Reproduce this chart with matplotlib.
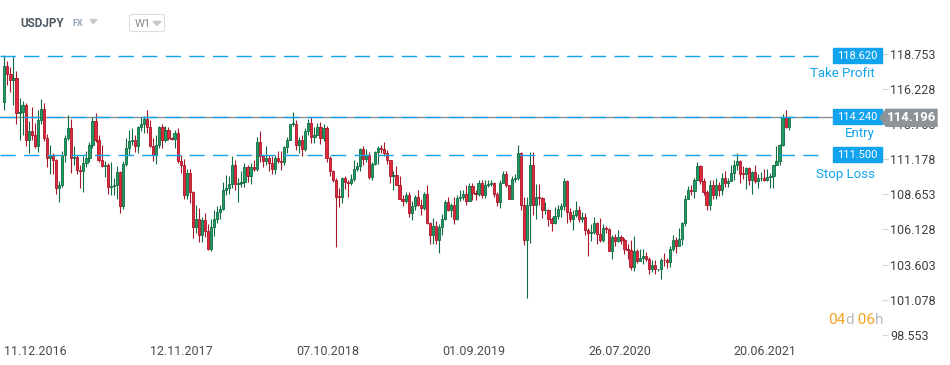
import matplotlib.pyplot as plt
import numpy as np
from matplotlib.patches import Rectangle, Polygon, FancyBboxPatch

plt.rcParams["font.family"] = ["Roboto", "DejaVu Sans"]

# weekly USDJPY candles, 11.12.2016 .. 24.10.2021 (incl. the short new-year bars)
opens = [
    115.3, 117.9, 117.3, 116.9, 117.0, 114.5, 114.6, 115.1, 112.6, 113.2,
    112.9, 112.1, 114.0, 114.8, 112.7, 111.3, 111.4, 111.1, 109.1, 109.3,
    111.5, 112.7, 113.4, 111.3, 111.35, 110.4, 110.3, 110.9, 111.3, 112.2,
    113.9, 112.6, 111.1, 110.7, 110.75, 109.2, 109.25, 109.35, 110.25, 107.85,
    110.85, 112.0, 112.5, 112.6, 112.1, 113.5, 113.7, 114.05, 113.5, 112.1,
    111.5, 112.2, 113.5, 112.6, 113.3, 112.7, 112.65, 113.05, 111.05, 110.8,
    108.6, 110.2, 108.8, 106.3, 106.9, 105.75, 106.8, 106.0, 104.7, 106.3,
    106.9, 107.4, 107.6, 109.0, 109.1, 109.4, 110.8, 109.4, 109.5, 109.55,
    110.6, 109.95, 110.65, 110.5, 112.4, 111.4, 111.05, 111.25, 110.9, 110.5,
    111.25, 111.05, 110.95, 112.05, 112.6, 113.7, 113.75, 112.2, 112.55, 111.9,
    113.2, 113.8, 112.8, 112.95, 113.5, 112.7, 113.4, 111.25, 110.3, 109.7,
    108.5, 108.45, 109.8, 109.55, 109.5, 109.75, 110.5, 110.7, 111.9, 111.2,
    111.5, 109.9, 110.85, 111.7, 112.0, 111.9, 111.6, 111.1, 109.95, 110.05,
    109.3, 108.3, 108.2, 108.6, 107.3, 107.85, 108.5, 107.9, 107.7, 108.7,
    106.6, 105.7, 106.35, 105.4, 106.3, 106.9, 108.1, 107.55, 107.9, 106.9,
    108.4, 108.45, 108.7, 108.2, 109.25, 108.75, 108.65, 109.5, 108.6, 109.35,
    109.4, 109.45, 108.65, 108.1, 109.5, 110.15, 109.3, 108.35, 109.75, 109.8,
    111.6, 107.9, 105.4, 107.9, 110.8, 107.9, 108.5, 108.4, 107.5, 107.55,
    106.9, 106.6, 107.1, 107.6, 107.8, 109.6, 107.4, 106.9, 107.2, 107.5,
    106.9, 107.0, 106.1, 105.9, 105.95, 106.6, 105.8, 105.4, 106.2, 106.15,
    104.55, 105.6, 105.3, 105.6, 105.4, 104.7, 104.65, 103.4, 104.6, 103.85,
    104.1, 104.2, 104.0, 103.3, 103.6, 103.25, 103.25, 103.95, 103.9, 103.8,
    104.7, 105.4, 104.95, 105.45, 106.6, 108.3, 109.0, 108.9, 109.7, 110.7,
    109.65, 108.8, 107.9, 109.3, 108.6, 109.35, 108.95, 109.85, 109.5, 109.65,
    110.2, 110.75, 111.05, 110.15, 110.1, 110.55, 109.7, 110.25, 109.6, 109.8,
    109.85, 109.7, 109.9, 109.95, 110.75, 111.05, 112.2, 114.2, 113.5,
]
highs = [
    118.66, 118.25, 117.8, 118.6, 117.5, 115.6, 115.37, 115.2, 113.9, 114.95,
    113.8, 114.75, 115.5, 115.2, 113.0, 112.2, 111.6, 111.2, 109.6, 111.8,
    112.9, 114.37, 114.1, 112.1, 111.5, 110.8, 111.4, 111.8, 112.4, 114.2,
    114.5, 112.9, 112.2, 111.05, 110.9, 110.95, 109.85, 110.7, 110.3, 111.05,
    112.7, 113.25, 113.45, 112.9, 113.6, 114.25, 114.3, 114.7, 114.0, 112.7,
    112.9, 113.6, 113.75, 113.55, 113.5, 112.75, 113.3, 113.4, 111.5, 111.2,
    110.5, 110.5, 108.9, 107.9, 107.7, 107.0, 107.3, 106.5, 106.9, 107.5,
    107.8, 107.9, 109.55, 110.05, 109.95, 111.4, 111.15, 109.85, 110.3, 110.9,
    110.75, 110.9, 111.1, 112.8, 113.2, 111.5, 112.15, 111.5, 111.45, 111.5,
    111.8, 111.75, 112.15, 112.8, 113.7, 114.55, 114.0, 112.75, 112.9, 113.4,
    114.05, 114.2, 113.5, 113.8, 113.85, 113.7, 113.6, 111.4, 110.4, 109.8,
    109.1, 109.9, 110.0, 109.7, 110.15, 111.1, 111.0, 112.0, 112.1, 111.9,
    111.7, 110.95, 111.8, 112.1, 112.2, 112.4, 111.85, 111.15, 110.3, 110.7,
    109.95, 108.6, 108.8, 108.8, 108.2, 108.6, 108.95, 108.3, 108.8, 109.3,
    106.7, 106.95, 106.75, 106.55, 107.25, 108.25, 108.5, 108.05, 108.45, 108.6,
    108.95, 108.95, 109.3, 109.5, 109.5, 109.0, 109.7, 109.7, 109.7, 109.7,
    109.7, 109.55, 108.85, 109.7, 110.3, 110.3, 109.35, 110.0, 110.15, 112.2,
    111.7, 108.5, 108.5, 111.7, 111.7, 109.4, 109.4, 108.45, 108.1, 107.6,
    107.05, 107.75, 107.9, 108.05, 109.85, 109.7, 107.65, 107.5, 108.15, 107.8,
    107.4, 107.3, 106.2, 106.5, 107.05, 106.65, 106.95, 106.55, 106.4, 106.2,
    105.7, 105.8, 106.1, 105.75, 105.5, 105.05, 105.35, 105.65, 104.75, 104.75,
    104.75, 104.5, 104.15, 103.9, 103.9, 103.3, 104.1, 104.4, 104.1, 104.95,
    105.75, 105.6, 106.2, 106.7, 108.6, 109.25, 109.35, 109.85, 110.97, 110.75,
    109.8, 109.0, 109.7, 109.7, 109.8, 109.55, 110.2, 110.3, 109.8, 110.8,
    111.1, 111.65, 111.1, 110.7, 110.6, 110.6, 110.35, 110.8, 110.1, 110.25,
    110.45, 110.45, 110.2, 110.8, 112.1, 112.25, 114.45, 114.7, 114.3,
]
lows = [
    114.75, 116.55, 116.05, 115.06, 113.75, 112.57, 112.9, 112.1, 111.6, 112.6,
    112.0, 111.7, 113.7, 112.5, 110.6, 110.1, 110.1, 108.7, 108.13, 109.2,
    111.0, 112.6, 110.2, 110.8, 110.1, 109.1, 108.8, 110.6, 111.0, 112.0,
    112.4, 111.0, 110.6, 109.9, 108.7, 108.6, 108.6, 108.3, 107.3, 107.6,
    110.7, 111.5, 112.2, 111.7, 111.65, 113.2, 113.1, 113.1, 112.05, 111.05,
    110.85, 112.0, 112.0, 112.45, 112.6, 112.6, 112.0, 110.9, 110.2, 108.3,
    108.3, 108.0, 105.55, 105.9, 105.25, 105.25, 105.6, 104.63, 104.6, 105.65,
    106.6, 106.9, 107.5, 108.6, 108.65, 109.1, 108.95, 108.1, 109.2, 109.2,
    109.55, 109.4, 110.3, 110.3, 111.0, 110.6, 110.75, 110.35, 110.1, 110.1,
    110.9, 110.4, 110.75, 111.65, 112.55, 113.6, 111.85, 111.6, 111.4, 111.8,
    112.95, 112.35, 112.35, 112.9, 112.25, 112.5, 111.0, 110.0, 109.55, 104.9,
    107.75, 108.0, 109.05, 108.5, 109.3, 109.65, 110.3, 110.35, 110.8, 111.0,
    109.75, 109.7, 110.8, 110.85, 111.6, 111.45, 110.85, 109.45, 109.0, 109.3,
    108.3, 107.8, 108.0, 107.0, 106.8, 107.55, 107.8, 107.2, 107.5, 106.5,
    105.05, 105.05, 105.1, 104.45, 105.75, 106.8, 107.45, 107.0, 106.5, 106.8,
    108.2, 108.25, 107.9, 108.2, 108.25, 108.25, 108.55, 108.4, 108.4, 109.15,
    109.25, 108.5, 107.85, 107.65, 109.45, 109.15, 108.3, 108.3, 109.55, 109.7,
    107.5, 105.0, 101.18, 105.15, 107.15, 106.9, 107.9, 106.95, 107.25, 106.35,
    106.0, 106.5, 106.9, 107.05, 107.55, 106.6, 106.7, 106.1, 107.0, 106.65,
    106.65, 105.7, 104.2, 105.3, 105.8, 105.1, 105.2, 105.2, 105.85, 104.55,
    104.0, 104.95, 105.2, 105.05, 104.35, 104.0, 103.2, 103.15, 103.7, 103.85,
    103.65, 103.85, 102.9, 103.05, 102.95, 103.15, 102.6, 103.5, 103.35, 103.45,
    104.6, 104.45, 104.95, 105.0, 106.35, 108.3, 108.6, 108.4, 109.7, 109.4,
    108.6, 107.5, 107.5, 108.35, 108.35, 108.55, 108.6, 109.2, 109.2, 109.6,
    109.7, 110.4, 109.5, 109.75, 109.05, 109.35, 108.7, 109.45, 109.1, 109.6,
    109.6, 109.6, 109.1, 109.1, 110.75, 110.8, 112.1, 113.4, 113.3,
]
closes = [
    117.9, 117.3, 116.9, 117.0, 114.5, 114.6, 115.1, 112.6, 113.2, 112.9,
    112.1, 114.0, 114.8, 112.7, 111.3, 111.4, 111.1, 109.1, 109.3, 111.5,
    112.7, 113.4, 111.3, 111.35, 110.4, 110.3, 110.9, 111.3, 112.2, 113.9,
    112.6, 111.1, 110.7, 110.75, 109.2, 109.25, 109.35, 110.25, 107.85, 110.85,
    112.0, 112.5, 112.6, 112.1, 113.5, 113.7, 114.05, 113.5, 112.1, 111.5,
    112.2, 113.5, 112.6, 113.3, 112.7, 112.65, 113.05, 111.05, 110.8, 108.6,
    110.2, 108.8, 106.3, 106.9, 105.75, 106.8, 106.0, 104.7, 106.3, 106.9,
    107.4, 107.6, 109.0, 109.1, 109.4, 110.8, 109.4, 109.5, 109.55, 110.6,
    109.95, 110.65, 110.5, 112.4, 111.4, 111.05, 111.25, 110.9, 110.5, 111.25,
    111.05, 110.95, 112.05, 112.6, 113.7, 113.75, 112.2, 112.55, 111.9, 113.2,
    113.8, 112.8, 112.95, 113.5, 112.7, 113.4, 111.25, 110.3, 109.7, 108.5,
    108.45, 109.8, 109.55, 109.5, 109.75, 110.5, 110.7, 111.9, 111.2, 111.5,
    109.9, 110.85, 111.7, 112.0, 111.9, 111.6, 111.1, 109.95, 110.05, 109.3,
    108.3, 108.2, 108.6, 107.3, 107.85, 108.5, 107.9, 107.7, 108.7, 106.6,
    105.7, 106.35, 105.4, 106.3, 106.9, 108.1, 107.55, 107.9, 106.9, 108.4,
    108.45, 108.7, 108.2, 109.25, 108.75, 108.65, 109.5, 108.6, 109.35, 109.4,
    109.45, 108.65, 108.1, 109.5, 110.15, 109.3, 108.35, 109.75, 109.8, 111.6,
    107.9, 105.4, 107.9, 110.8, 107.9, 108.5, 108.4, 107.5, 107.55, 106.9,
    106.6, 107.1, 107.6, 107.8, 109.6, 107.4, 106.9, 107.2, 107.5, 106.9,
    107.0, 106.1, 105.9, 105.95, 106.6, 105.8, 105.4, 106.2, 106.15, 104.55,
    105.6, 105.3, 105.6, 105.4, 104.7, 104.65, 103.4, 104.6, 103.85, 104.1,
    104.2, 104.0, 103.3, 103.6, 103.25, 103.25, 103.95, 103.9, 103.8, 104.7,
    105.4, 104.95, 105.45, 106.6, 108.3, 109.0, 108.9, 109.7, 110.7, 109.65,
    108.8, 107.9, 109.3, 108.6, 109.35, 108.95, 109.85, 109.5, 109.65, 110.2,
    110.75, 111.05, 110.15, 110.1, 110.55, 109.7, 110.25, 109.6, 109.8, 109.85,
    109.7, 109.9, 109.95, 110.75, 111.05, 112.2, 114.2, 113.5, 114.2,
]

date_labels = ["11.12.2016", "12.11.2017", "07.10.2018", "01.09.2019", "26.07.2020", "20.06.2021"]
date_bars = [0, 48, 96, 144, 192, 240]
price_ticks = [118.753, 116.228, 113.703, 111.178, 108.653, 106.128, 103.603, 101.078, 98.553]
levels = [118.620, 114.240, 111.500]
level_names = ["Take Profit", "Entry", "Stop Loss"]
last_price = 114.196

W, H = 950, 365
GREEN, GREEN_EDGE = "#1f9c63", "#0f6d42"
RED, RED_EDGE = "#e0293b", "#a8172a"
BLUE = "#12a3ee"


def to_fig(xp, yp):
    return xp / W, 1 - yp / H


fig = plt.figure(figsize=(W / 100, H / 100), dpi=100)
ax = fig.add_axes([0, 27 / H, 882 / W, 300 / H])
ax.set_xlim(-4.33 / 3.04, (882 - 4.33) / 3.04)
ax.set_ylim(98.32, 119.904)
for s in ax.spines.values():
    s.set_visible(False)

o = np.array(opens)
h = np.array(highs)
l = np.array(lows)
c = np.array(closes)
x = np.arange(len(c))
up = c >= o
edge = np.where(up, GREEN_EDGE, RED_EDGE)
fill = np.where(up, GREEN, RED)

ax.vlines(x, l, h, colors=edge, linewidth=0.8, zorder=2)
ax.bar(x, np.maximum(np.abs(c - o), 0.06), bottom=np.minimum(o, c), width=0.72,
       color=fill, edgecolor=edge, linewidth=0.6, zorder=3)

# current price line + order levels
ax.axhline(last_price, color="#8a9096", linewidth=1.0, zorder=1)
x_end = (826 - 4.33) / 3.04
ax.hlines(levels, -1.5, x_end, colors=BLUE, linestyles=(0, (11, 6)), linewidth=1.0, zorder=4)

ax.yaxis.tick_right()
ax.set_yticks(price_ticks, [f"{v:.3f}" for v in price_ticks])
ax.tick_params(axis="y", length=4, width=0.8, color="#d5d5d5", pad=2, labelsize=9, labelcolor="#3c4043")
ax.set_xticks(date_bars, date_labels)
ax.tick_params(axis="x", length=0, pad=5, labelsize=9, labelcolor="#4a4a4a")
for lbl in ax.get_xticklabels():
    lbl.set_ha("left")


def level_y(price):
    return H - ax.transData.transform((0, price))[1]


# caption offsets under each tag (px)
name_offsets = [18, 17, 20]
for lvl, name, off in zip(levels, level_names, name_offsets):
    yp = level_y(lvl)
    fig.add_artist(Rectangle(to_fig(833, yp + 7.5), 49 / W, 15 / H, transform=fig.transFigure,
                             color=BLUE, zorder=5))
    fig.text(*to_fig(857.5, yp), f"{lvl:.3f}", color="white", ha="center", va="center",
             fontsize=8, zorder=6)
    fig.text(*to_fig(875, yp + off), name, color=BLUE, ha="right", va="center", fontsize=9.5)

# last price tag (covers the 113.703 axis label, as in the platform)
yp = level_y(last_price) + 0.5
tag = [to_fig(880, yp), to_fig(886, yp - 8.5), to_fig(937, yp - 8.5),
       to_fig(937, yp + 8.5), to_fig(886, yp + 8.5)]
fig.add_artist(Polygon(tag, closed=True, transform=fig.transFigure, color="#8c9399", zorder=5))
fig.text(*to_fig(911.5, yp), f"{last_price:.3f}", color="white", weight="bold",
         ha="center", va="center", fontsize=9.5, zorder=6)

# header
fig.text(*to_fig(20.5, 23.5), "USDJPY", weight="bold", fontsize=8.5, color="#4f5962", va="center")
fig.text(*to_fig(72.5, 24), "FX", weight="bold", fontsize=6.5, color="#8fa4b6", va="center")
fig.add_artist(Polygon([to_fig(90, 19.5), to_fig(97, 19.5), to_fig(93.5, 23.5)],
                       transform=fig.transFigure, color="#c9c9c9"))
fig.add_artist(FancyBboxPatch(to_fig(129.5, 31.5), 35 / W, 17 / H, boxstyle="round,pad=0,rounding_size=0.004",
                              transform=fig.transFigure, fc="white", ec="#dedede", lw=0.8))
fig.text(*to_fig(134.5, 24), "W1", fontsize=8, color="#8a8a8a", va="center")
fig.add_artist(Polygon([to_fig(153, 21.5), to_fig(161, 21.5), to_fig(157, 25.5)],
                       transform=fig.transFigure, color="#c9c9c9"))

# countdown
t = fig.text(*to_fig(828, 320.5), "04", fontsize=11, color="#f5a31f", va="center")
t = ax.annotate("d", xy=(1, 0), xycoords=t, va="bottom", fontsize=11, color="#b9bdc1")
t = ax.annotate(" 06", xy=(1, 0), xycoords=t, va="bottom", fontsize=11, color="#f5a31f")
ax.annotate("h", xy=(1, 0), xycoords=t, va="bottom", fontsize=11, color="#b9bdc1")

fig.savefig("out.png", dpi=100)
